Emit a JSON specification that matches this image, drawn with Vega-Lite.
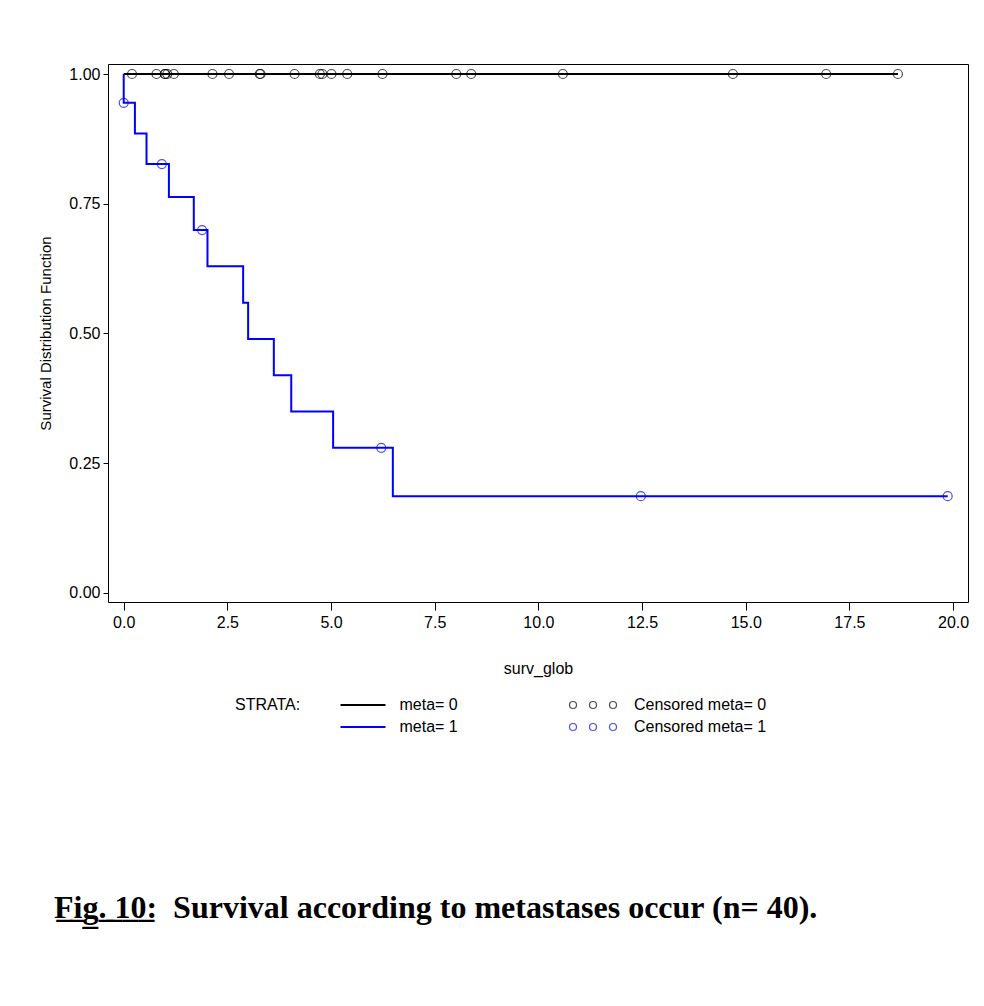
{
  "$schema": "https://vega.github.io/schema/vega-lite/v6.json",
  "width": 860,
  "height": 538,
  "autosize": {"type": "none"},
  "padding": {"left": 108, "top": 64, "right": 16, "bottom": 404},
  "background": "white",
  "config": {
    "view": {"stroke": "#000000", "strokeWidth": 1},
    "font": "Liberation Sans",
    "axis": {
      "domain": false,
      "grid": false,
      "tickColor": "#000000",
      "tickWidth": 1,
      "labelColor": "#000000",
      "labelFont": "Liberation Sans",
      "labelFontSize": 16,
      "titleColor": "#000000",
      "titleFont": "Liberation Sans",
      "titleFontSize": 16,
      "titleFontWeight": "normal"
    },
    "legend": {
      "labelFont": "Liberation Sans",
      "labelFontSize": 16,
      "labelColor": "#000000",
      "titleFont": "Liberation Sans",
      "titleFontSize": 16,
      "titleFontWeight": "normal",
      "titleColor": "#000000",
      "padding": 0
    }
  },
  "title": {
    "text": "F̲i̲g̲.̲ ̲1̲0̲:\u00a0 Survival according to metastases occur (n= 40).",
    "orient": "bottom",
    "anchor": "start",
    "frame": "group",
    "dx": -54,
    "offset": 158,
    "font": "Liberation Serif",
    "fontSize": 32,
    "fontWeight": "bold",
    "color": "#000000"
  },
  "datasets": {
    "curves": [
      {"strata": "meta= 0", "i": 0, "t": 0, "s": 1},
      {"strata": "meta= 0", "i": 1, "t": 18.67, "s": 1},
      {"strata": "meta= 1", "i": 0, "t": 0, "s": 1},
      {"strata": "meta= 1", "i": 1, "t": 0, "s": 0.94444},
      {"strata": "meta= 1", "i": 2, "t": 0.27, "s": 0.88542},
      {"strata": "meta= 1", "i": 3, "t": 0.55, "s": 0.82639},
      {"strata": "meta= 1", "i": 4, "t": 1.09, "s": 0.76282},
      {"strata": "meta= 1", "i": 5, "t": 1.69, "s": 0.69925},
      {"strata": "meta= 1", "i": 6, "t": 2.02, "s": 0.62933},
      {"strata": "meta= 1", "i": 7, "t": 2.88, "s": 0.5594},
      {"strata": "meta= 1", "i": 8, "t": 3.0, "s": 0.48948},
      {"strata": "meta= 1", "i": 9, "t": 3.62, "s": 0.41955},
      {"strata": "meta= 1", "i": 10, "t": 4.04, "s": 0.34963},
      {"strata": "meta= 1", "i": 11, "t": 5.05, "s": 0.2797},
      {"strata": "meta= 1", "i": 12, "t": 6.49, "s": 0.18647},
      {"strata": "meta= 1", "i": 13, "t": 19.87, "s": 0.18647}
    ],
    "censored": [
      {"cens": "Censored meta= 0", "t": 0.2, "s": 1},
      {"cens": "Censored meta= 0", "t": 0.79, "s": 1},
      {"cens": "Censored meta= 0", "t": 0.99, "s": 1},
      {"cens": "Censored meta= 0", "t": 1.0, "s": 1},
      {"cens": "Censored meta= 0", "t": 1.05, "s": 1},
      {"cens": "Censored meta= 0", "t": 1.21, "s": 1},
      {"cens": "Censored meta= 0", "t": 2.14, "s": 1},
      {"cens": "Censored meta= 0", "t": 2.54, "s": 1},
      {"cens": "Censored meta= 0", "t": 3.28, "s": 1},
      {"cens": "Censored meta= 0", "t": 3.3, "s": 1},
      {"cens": "Censored meta= 0", "t": 4.12, "s": 1},
      {"cens": "Censored meta= 0", "t": 4.73, "s": 1},
      {"cens": "Censored meta= 0", "t": 4.79, "s": 1},
      {"cens": "Censored meta= 0", "t": 5.01, "s": 1},
      {"cens": "Censored meta= 0", "t": 5.39, "s": 1},
      {"cens": "Censored meta= 0", "t": 6.24, "s": 1},
      {"cens": "Censored meta= 0", "t": 8.02, "s": 1},
      {"cens": "Censored meta= 0", "t": 8.38, "s": 1},
      {"cens": "Censored meta= 0", "t": 10.59, "s": 1},
      {"cens": "Censored meta= 0", "t": 14.69, "s": 1},
      {"cens": "Censored meta= 0", "t": 16.94, "s": 1},
      {"cens": "Censored meta= 0", "t": 18.67, "s": 1},
      {"cens": "Censored meta= 1", "t": 0.0, "s": 0.94444},
      {"cens": "Censored meta= 1", "t": 0.92, "s": 0.82639},
      {"cens": "Censored meta= 1", "t": 1.89, "s": 0.69925},
      {"cens": "Censored meta= 1", "t": 6.21, "s": 0.2797},
      {"cens": "Censored meta= 1", "t": 12.47, "s": 0.18647},
      {"cens": "Censored meta= 1", "t": 19.87, "s": 0.18647}
    ]
  },
  "layer": [
    {
      "data": {"name": "curves"},
      "mark": {"type": "line", "interpolate": "step-after", "strokeWidth": 2},
      "encoding": {
        "x": {
          "field": "t",
          "type": "quantitative",
          "scale": {"domain": [-0.379, 20.36], "nice": false, "zero": false},
          "axis": {
            "values": [0, 2.5, 5, 7.5, 10, 12.5, 15, 17.5, 20],
            "format": ".1f",
            "tickSize": 8,
            "labelPadding": 4,
            "title": "surv_glob",
            "titlePadding": 30
          }
        },
        "y": {
          "field": "s",
          "type": "quantitative",
          "scale": {"domain": [-0.0175, 1.0193], "nice": false, "zero": false},
          "axis": {
            "values": [0, 0.25, 0.5, 0.75, 1],
            "format": ".2f",
            "tickSize": 5,
            "labelPadding": 3,
            "title": "Survival Distribution Function",
            "titleFontSize": 15,
            "titlePadding": 15
          }
        },
        "stroke": {
          "field": "strata",
          "type": "nominal",
          "scale": {"domain": ["meta= 0", "meta= 1"], "range": ["#000000", "#0000ff"]},
          "legend": {
            "title": "STRATA:",
            "orient": "none",
            "legendX": 127,
            "legendY": 633,
            "titleOrient": "left",
            "titleAnchor": "start",
            "titlePadding": 54,
            "symbolType": "M -4.5 0 L 4.5 0",
            "symbolSize": 100,
            "symbolStrokeWidth": 2,
            "labelOffset": 28.5,
            "rowPadding": 6
          }
        },
        "order": {"field": "i", "type": "quantitative"}
      }
    },
    {
      "data": {"name": "censored"},
      "mark": {"type": "point", "shape": "circle", "filled": false, "size": 81, "strokeWidth": 1.2},
      "encoding": {
        "x": {"field": "t", "type": "quantitative"},
        "y": {"field": "s", "type": "quantitative"},
        "color": {
          "field": "cens",
          "type": "nominal",
          "scale": {"domain": ["Censored meta= 0", "Censored meta= 1"], "range": ["#000000", "#0000ff"]},
          "legend": {
            "title": null,
            "orient": "none",
            "legendX": 477,
            "legendY": 633,
            "symbolType": "M -4.7 0 A 0.7 0.7 0 1 0 -3.3 0 A 0.7 0.7 0 1 0 -4.7 0 Z M -0.7 0 A 0.7 0.7 0 1 0 0.7 0 A 0.7 0.7 0 1 0 -0.7 0 Z M 3.3 0 A 0.7 0.7 0 1 0 4.7 0 A 0.7 0.7 0 1 0 3.3 0 Z",
            "symbolSize": 100,
            "symbolStrokeWidth": 1.2,
            "symbolFillColor": "transparent",
            "labelOffset": 33,
            "rowPadding": 6
          }
        }
      }
    }
  ]
}
